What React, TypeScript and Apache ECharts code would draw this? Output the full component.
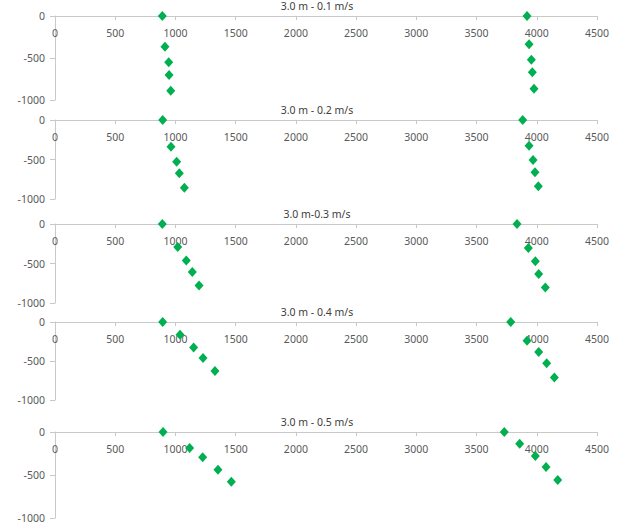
import React, { useEffect, useRef } from "react";
import * as echarts from "echarts";

const panelTitles = ["3.0 m - 0.1 m/s", "3.0 m - 0.2 m/s", "3.0 m-0.3 m/s", "3.0 m - 0.4 m/s", "3.0 m - 0.5 m/s"];

const xTickMin = 0;
const xTickMax = 4500;
const xTickStep = 500;
const yTickMin = -1000;
const yTickMax = 0;
const yTickStep = 500;

const p1LeftX = [891, 913, 944, 947, 961];
const p1LeftY = [0, -365, -551, -702, -889];
const p1RightX = [3919, 3936, 3955, 3963, 3977];
const p1RightY = [0, -337, -520, -670, -865];

const p2LeftX = [894, 963, 1010, 1032, 1074];
const p2LeftY = [0, -338, -528, -675, -857];
const p2RightX = [3883, 3936, 3969, 3985, 4013];
const p2RightY = [0, -325, -506, -662, -839];

const p3LeftX = [891, 1019, 1090, 1140, 1196];
const p3LeftY = [0, -291, -461, -608, -777];
const p3RightX = [3836, 3930, 3988, 4016, 4071];
const p3RightY = [0, -304, -473, -633, -803];

const p4LeftX = [894, 1038, 1151, 1229, 1328];
const p4LeftY = [0, -163, -327, -463, -627];
const p4RightX = [3784, 3919, 4016, 4082, 4146];
const p4RightY = [0, -241, -386, -528, -713];

const p5LeftX = [897, 1118, 1226, 1353, 1464];
const p5LeftY = [0, -186, -295, -438, -578];
const p5RightX = [3730, 3858, 3988, 4077, 4174];
const p5RightY = [0, -136, -279, -407, -558];

const panels = [
  { lx: p1LeftX, ly: p1LeftY, rx: p1RightX, ry: p1RightY },
  { lx: p2LeftX, ly: p2LeftY, rx: p2RightX, ry: p2RightY },
  { lx: p3LeftX, ly: p3LeftY, rx: p3RightX, ry: p3RightY },
  { lx: p4LeftX, ly: p4LeftY, rx: p4RightX, ry: p4RightY },
  { lx: p5LeftX, ly: p5LeftY, rx: p5RightX, ry: p5RightY },
];

// layout (pixels)
const gridTops = [16, 120, 224, 322, 432];
const gridHeights = [84, 79, 79, 78, 86];
const titleCenters = [6, 110, 214, 312, 422];

const FONT = "'Noto Sans', 'Open Sans', sans-serif";
const AXIS_COLOR = "#c9c9c9";
const LABEL_COLOR = "#595959";
const MARKER_COLOR = "#00b050";

export default function App() {
  const ref = useRef<HTMLDivElement>(null);

  useEffect(() => {
    if (!ref.current) return;
    const chart = echarts.init(ref.current, undefined, { renderer: "svg" });

    const zip = (xs: number[], ys: number[]) => xs.map((x, i) => [x, ys[i]]);
    const plain = (v: number) => String(v);

    const grid = panels.map((_, i) => ({
      left: 55,
      right: 23,
      top: gridTops[i],
      height: gridHeights[i],
      containLabel: false,
    }));

    const xAxis = panels.map((_, i) => ({
      type: "value",
      gridIndex: i,
      position: "top",
      min: xTickMin,
      max: xTickMax,
      interval: xTickStep,
      axisLine: { show: true, onZero: false, lineStyle: { color: AXIS_COLOR, width: 1 } },
      axisTick: { show: true, inside: true, length: 4, lineStyle: { color: AXIS_COLOR } },
      axisLabel: {
        show: true,
        inside: true,
        margin: 11,
        color: LABEL_COLOR,
        fontFamily: FONT,
        fontSize: 10.5,
        showMinLabel: true,
        showMaxLabel: true,
        formatter: plain,
      },
      splitLine: { show: false },
    }));

    const yAxis = panels.map((_, i) => ({
      type: "value",
      gridIndex: i,
      min: yTickMin,
      max: yTickMax,
      interval: yTickStep,
      axisLine: { show: true, onZero: false, lineStyle: { color: AXIS_COLOR, width: 1 } },
      axisTick: { show: true, length: 5, lineStyle: { color: AXIS_COLOR } },
      axisLabel: {
        show: true,
        margin: 10,
        color: LABEL_COLOR,
        fontFamily: FONT,
        fontSize: 10.5,
        showMinLabel: true,
        showMaxLabel: true,
        formatter: plain,
      },
      splitLine: { show: false },
    }));

    const series: any[] = [];
    panels.forEach((p, i) => {
      [zip(p.lx, p.ly), zip(p.rx, p.ry)].forEach((d) => {
        series.push({
          type: "scatter",
          xAxisIndex: i,
          yAxisIndex: i,
          data: d,
          symbol: "diamond",
          symbolSize: [9, 10],
          itemStyle: { color: MARKER_COLOR, opacity: 1 },
          emphasis: { disabled: true },
        });
      });
    });

    const graphic = panelTitles.map((t, i) => ({
      type: "text",
      x: 317,
      y: titleCenters[i],
      style: {
        text: t,
        align: "center",
        verticalAlign: "middle",
        fill: "#404040",
        font: `10.5px ${FONT}`,
      },
    }));

    chart.setOption({
      animation: false,
      backgroundColor: "#ffffff",
      grid,
      xAxis,
      yAxis,
      series,
      graphic,
    } as any);

    return () => chart.dispose();
  }, []);

  return (
    <div
      ref={ref}
      style={{ position: "fixed", left: 0, top: 0, width: 620, height: 531, background: "#fff" }}
    />
  );
}
